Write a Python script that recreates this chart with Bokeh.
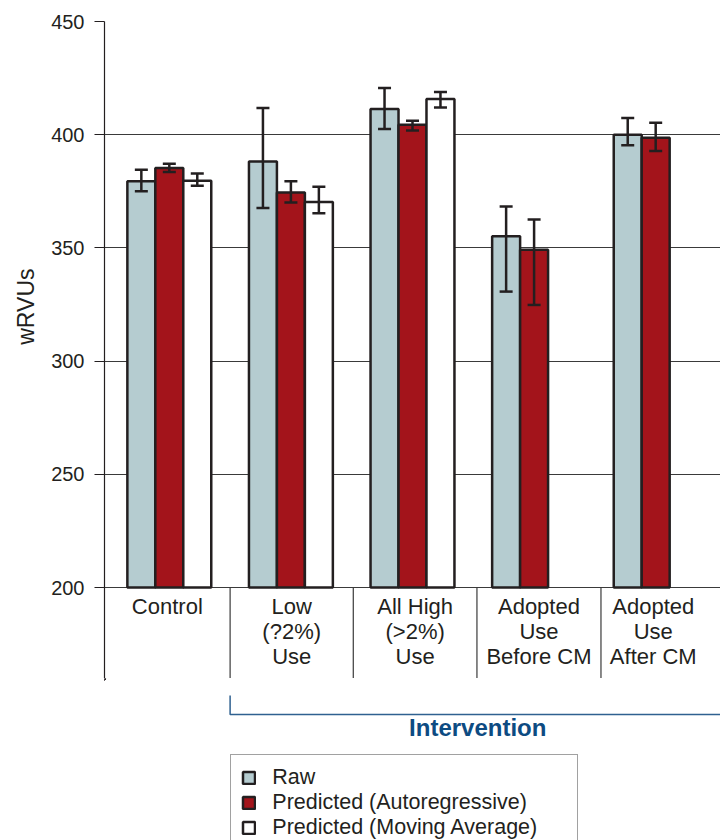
from bokeh.plotting import figure
from bokeh.models import (Range1d, ColumnDataSource, Whisker, TeeHead, Legend,
                          LegendItem, FixedTicker, Title)
from bokeh.layouts import column
from bokeh.core.properties import value
from bokeh.embed import file_html
from bokeh.resources import INLINE

# ---------------- data ----------------
categories = ["Control", "Low\n(?2%)\nUse", "All High\n(>2%)\nUse",
              "Adopted\nUse\nBefore CM", "Adopted\nUse\nAfter CM"]
series_names = ["Raw", "Predicted (Autoregressive)", "Predicted (Moving Average)"]

raw = [379.4, 388.2, 411.3, 355.1, 400.0]
raw_lo = [375.0, 367.6, 402.5, 330.7, 395.3]
raw_hi = [384.5, 411.8, 420.6, 368.3, 407.4]

ar = [385.3, 374.5, 404.4, 349.2, 398.7]
ar_lo = [383.5, 370.0, 401.8, 324.8, 392.8]
ar_hi = [387.2, 379.4, 406.2, 362.5, 405.3]

ma = [379.7, 370.3, 415.8, None, None]
ma_lo = [377.4, 365.3, 412.0, None, None]
ma_hi = [382.9, 377.0, 418.9, None, None]

group_label = "Intervention"
y_label = "wRVUs"
y_ticks = [200, 250, 300, 350, 400, 450]

# ---------------- styling / layout ----------------
FONT = "Liberation Sans"
EDGE = "#231f20"
GRID = "#3a3a3a"
FILLS = ["#b5ccd0", "#a3141b", "#ffffff"]
BLUE_LINE = "#2f6190"
BLUE_TEXT = "#0d4b82"
BAR_W = 0.23
OFFSETS = [-0.23, 0.0, 0.23]
X_LO, X_HI = -0.533, 4.533
Y_LO, Y_HI = 200, 450
TOP_PX = 21          # space above the 450 line
PLOT_PX = 566        # pixels between 200 and 450
LABEL_PX = 91        # label strip below the 200 line
PX_PER_UNIT = PLOT_PX / (Y_HI - Y_LO)
Y_FLOOR = Y_LO - LABEL_PX / PX_PER_UNIT
CELL_EDGES = [X_LO, 0.5, 1.513, 2.53, 3.55, 4.41]
W = 720
LEFT = 102
H1 = TOP_PX + PLOT_PX + LABEL_PX
H2 = 840 - H1

p = figure(width=W, height=H1, x_range=Range1d(X_LO, X_HI),
           y_range=Range1d(Y_FLOOR, Y_HI), x_axis_location=None,
           output_backend="svg", toolbar_location=None,
           min_border_left=LEFT, min_border_right=0, min_border_top=TOP_PX,
           min_border_bottom=0)
p.outline_line_color = None
p.background_fill_color = "white"
p.border_fill_color = "white"
p.xgrid.visible = False
p.ygrid.ticker = FixedTicker(ticks=y_ticks)
p.ygrid.grid_line_color = GRID
p.ygrid.grid_line_width = 1.2

ax = p.yaxis[0]
ax.ticker = FixedTicker(ticks=y_ticks)
ax.major_label_text_font = FONT
ax.major_label_text_font_size = "20px"
ax.major_label_text_color = EDGE
ax.major_label_standoff = 10
ax.major_tick_out = 10
ax.major_tick_in = 0
ax.minor_tick_out = 0
ax.minor_tick_in = 0
ax.axis_line_color = EDGE
ax.axis_line_width = 1.2
ax.major_tick_line_color = EDGE
ax.major_tick_line_width = 1.2

# y-axis title, placed over the 200-450 span (the frame also holds the label strip)
p.add_layout(Title(text=y_label, align="right", offset=247, standoff=20,
                   text_font=FONT, text_font_size="23px",
                   text_font_style="normal", text_color=EDGE), "left")

all_series = [(raw, raw_lo, raw_hi), (ar, ar_lo, ar_hi), (ma, ma_lo, ma_hi)]
for k, (vals, lo, hi) in enumerate(all_series):
    idx = [i for i, v in enumerate(vals) if v is not None]
    src = ColumnDataSource(dict(
        x=[i + OFFSETS[k] for i in idx],
        top=[vals[i] for i in idx],
        lo=[lo[i] for i in idx],
        hi=[hi[i] for i in idx],
    ))
    p.vbar(x="x", top="top", bottom=Y_LO, width=BAR_W, source=src,
           fill_color=FILLS[k], line_color=EDGE, line_width=2.5)
    w = Whisker(base="x", lower="lo", upper="hi", source=src,
                line_color=EDGE, line_width=2.5, level="overlay",
                upper_head=TeeHead(size=13, line_color=EDGE, line_width=2.5),
                lower_head=TeeHead(size=13, line_color=EDGE, line_width=2.5))
    p.add_layout(w)

# cell dividers in the label strip
div_x = CELL_EDGES[1:-1]
p.segment(x0=div_x, y0=[Y_LO] * len(div_x), x1=div_x, y1=[Y_FLOOR] * len(div_x),
          line_color=GRID, line_width=1.2)

# multi-line category labels
lx, ly, lt = [], [], []
for i, cat in enumerate(categories):
    cx = (CELL_EDGES[i] + CELL_EDGES[i + 1]) / 2
    for j, line in enumerate(cat.split("\n")):
        lx.append(cx)
        ly.append(Y_LO - (18.5 + 25.3 * j) / PX_PER_UNIT)
        lt.append(line)
p.text(x=lx, y=ly, text=lt, text_align="center", text_baseline="alphabetic",
       text_font=value(FONT), text_font_size=value("22px"), text_color=EDGE)

# ---------------- bottom panel: bracket and legend ----------------
p2 = figure(width=W, height=H2, x_range=p.x_range, y_range=Range1d(H2, 0),
            x_axis_location=None, y_axis_location=None,
            output_backend="svg", toolbar_location=None,
            min_border_left=LEFT, min_border_right=0, min_border_top=0,
            min_border_bottom=0)
p2.outline_line_color = None
p2.grid.visible = False
p2.background_fill_color = "white"
p2.border_fill_color = "white"

p2.line(x=[CELL_EDGES[1], CELL_EDGES[1], X_HI], y=[17, 36, 36],
        line_color=BLUE_LINE, line_width=1.5)
p2.text(x=[(CELL_EDGES[1] + X_HI) / 2 + 0.02], y=[48.5], text=[group_label],
        text_align="center", text_baseline="alphabetic",
        text_font=value(FONT), text_font_size=value("24px"),
        text_font_style="bold", text_color=BLUE_TEXT)

# legend swatches (renderers kept outside the visible range)
items = []
for k, name in enumerate(series_names):
    r = p2.vbar(x=[X_LO - 5], top=[1], bottom=0, width=BAR_W, fill_color=FILLS[k],
                line_color=EDGE, line_width=2.5)
    items.append(LegendItem(label=name, renderers=[r]))
legend = Legend(items=items, location=(126.3, -10.7), orientation="vertical",
                padding=10, spacing=0, margin=0, label_height=25,
                label_width=295, glyph_width=15, glyph_height=15,
                label_standoff=16, label_text_font=FONT,
                label_text_font_size="21.5px", label_text_color=EDGE,
                border_line_color="#444444", border_line_width=1.2,
                background_fill_color="white", background_fill_alpha=1.0)
p2.add_layout(legend, "center")

layout = column(p, p2, spacing=0)
open("out.html", "w").write(file_html(layout, INLINE))
